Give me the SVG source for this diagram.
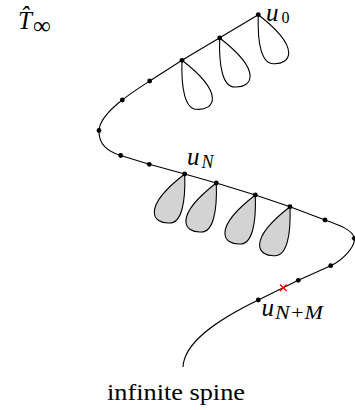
<svg xmlns="http://www.w3.org/2000/svg" xmlns:xlink="http://www.w3.org/1999/xlink" width="355" height="410" viewBox="0 0 355 410">
<style>
.spine{fill:none;stroke:#000;stroke-width:1.1}
.lw{fill:none;stroke:#000;stroke-width:1.1}
.lg{fill:#d3d3d3;stroke:#000;stroke-width:1.1}
.dot{fill:#000}
text{fill:#000;font-family:'Liberation Serif','DejaVu Serif',serif}
.i{font-style:italic}
.x{stroke:#ff0000;stroke-width:1.4;fill:none}
</style>
<defs>
<path id="loop" d="M0,0 C-1,28 3,49 15,49 C32,50 44,34 0,0 Z"/>
</defs>
<rect width="355" height="410" fill="#fff"/>
<g id="label-T">
<text class="i" x="18" y="28.5" font-size="25">T&#x302;</text>
<text x="33" y="34" font-size="25">∞</text>
</g>
<g id="loops-white">
<use xlink:href="#loop" class="lw" transform="translate(258.3,14.7)"/>
<use xlink:href="#loop" class="lw" transform="translate(219.7,38)"/>
<use xlink:href="#loop" class="lw" transform="translate(182,60.3)"/>
</g>
<g id="loops-gray">
<use xlink:href="#loop" class="lg" transform="translate(184.7,174) scale(-1,1)"/>
<use xlink:href="#loop" class="lg" transform="translate(216.3,183) scale(-1,1)"/>
<use xlink:href="#loop" class="lg" transform="translate(255.3,195) scale(-1,1)"/>
<use xlink:href="#loop" class="lg" transform="translate(290,206.7) scale(-1,1)"/>
</g>
<g id="connectors">
<path class="spine" d="M258.3,14.7 L182,60.3 L149.7,81 C135,90.5 100,112 99,130.5 C98.5,145 108,151.5 120.7,155.5 L149.3,164.3 L184.7,174 L216.3,183 L255.3,195 L290,206.7 L325,220 C340,225.5 353,230 354.3,238.3 C355.5,247 342,260.5 330.7,265.7 L298.3,280.3 L258.3,300 C215,321 184,343 183,367"/>
</g>
<g id="u0"><circle class="dot" cx="258.3" cy="14.7" r="2.4"/>
<text class="i" x="266" y="21" font-size="25">u</text><text x="281.5" y="23" font-size="16">0</text></g>
<g id="n1"><circle class="dot" cx="219.7" cy="38" r="2.4"/></g>
<g id="n2"><circle class="dot" cx="182" cy="60.3" r="2.4"/></g>
<g id="n3"><circle class="dot" cx="149.7" cy="81" r="2.4"/></g>
<g id="n4"><circle class="dot" cx="122.3" cy="100" r="2.4"/></g>
<g id="n5"><circle class="dot" cx="99" cy="130.5" r="2.4"/></g>
<g id="n6"><circle class="dot" cx="120.7" cy="155.5" r="2.4"/></g>
<g id="n7"><circle class="dot" cx="149.3" cy="164.3" r="2.4"/></g>
<g id="uN"><circle class="dot" cx="184.7" cy="174" r="2.4"/>
<text class="i" x="187" y="165" font-size="25">u</text><text class="i" x="201.5" y="167.5" font-size="18">N</text></g>
<g id="n9"><circle class="dot" cx="216.3" cy="183" r="2.4"/></g>
<g id="n10"><circle class="dot" cx="255.3" cy="195" r="2.4"/></g>
<g id="n11"><circle class="dot" cx="290" cy="206.7" r="2.4"/></g>
<g id="n12"><circle class="dot" cx="325" cy="220" r="2.4"/></g>
<g id="n13"><circle class="dot" cx="354.3" cy="238.3" r="2.4"/></g>
<g id="n14"><circle class="dot" cx="330.7" cy="265.7" r="2.4"/></g>
<g id="n15"><circle class="dot" cx="298.3" cy="280.3" r="2.4"/></g>
<g id="cut"><path class="x" d="M280,284.4 L286.6,291 M280,291 L286.6,284.4"/></g>
<g id="uNM"><circle class="dot" cx="258.3" cy="300" r="2.4"/>
<text class="i" x="261.5" y="315.7" font-size="25">u</text><text class="i" x="275" y="319.3" font-size="18" textLength="48" lengthAdjust="spacingAndGlyphs">N+M</text></g>
<g id="caption"><text x="107" y="400" font-size="24" textLength="138" lengthAdjust="spacingAndGlyphs">infinite spine</text></g>
</svg>
